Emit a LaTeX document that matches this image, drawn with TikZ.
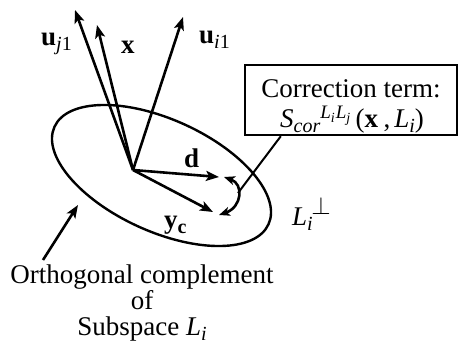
\documentclass[tikz,border=0pt]{standalone}
\usepackage{fontspec}
\setmainfont{Liberation Serif}
\usetikzlibrary{arrows.meta,calc}
\newcommand{\lsub}[1]{\raisebox{-0.22em}{\fontsize{20}{20}\selectfont #1}}
\newcommand{\lsup}[1]{\raisebox{0.30em}{\fontsize{19}{19}\selectfont #1}}
\newcommand{\lssub}[1]{\raisebox{-0.2em}{\fontsize{14}{14}\selectfont #1}}
\begin{document}
\begin{tikzpicture}[x=1pt,y=1pt,
  vec/.style={line width=2.6pt,-{Stealth[length=13pt,width=10pt,inset=3pt]}},
  dvec/.style={line width=2.6pt,{Stealth[length=11pt,width=9pt,inset=3pt]}-{Stealth[length=11pt,width=9pt,inset=3pt]}},
  lbl/.style={inner sep=0pt,font=\fontsize{27}{26}\selectfont},
  boxstyle/.style={draw,line width=2.4pt,minimum width=212pt,minimum height=70pt,inner sep=0pt}]
\useasboundingbox (0,0) rectangle (459,-354);
% subspace ellipse
\draw[line width=2.4pt,rotate around={-24.5:(161.5,-175.5)}] (161.5,-175.5) ellipse [x radius=117.6, y radius=56];
% origin and vector tips
\coordinate (O) at (133,-170);
\coordinate (uj) at (75,-10);
\coordinate (xv) at (97,-25);
\coordinate (ui) at (183,-17);
\coordinate (dv) at (219,-177);
\coordinate (yc) at (213,-212);
\draw[vec] (O) -- (uj);
\draw[vec] (O) -- (xv);
\draw[vec] (O) -- (ui);
\draw[vec] (O) -- (dv);
\draw[vec] (O) -- (yc);
% labels
\node[lbl,anchor=base west] (luj) at (41,-45) {\textbf{u}\lsub{\textit{j}1}};
\node[lbl,anchor=base west] (lx) at (121,-53) {\textbf{x}};
\node[lbl,anchor=base west] (lui) at (199,-43) {\textbf{u}\lsub{\textit{i}1}};
\node[lbl,anchor=base west] (ld) at (184,-167) {\textbf{d}};
\node[lbl,anchor=base west] (lyc) at (164,-228) {\textbf{y}\lsub{\textbf{c}}};
\node[lbl,anchor=base west] (lperp) at (292,-225) {\textit{L}\lsub{\textit{i}}\hspace{-0.05em}\raisebox{0.4em}{\fontsize{25}{25}\selectfont$\perp$}};
% correction box
\node[boxstyle] (box) at (351,-100) {};
\node[lbl,anchor=base] (t1) at (351,-97) {Correction term:};
\node[lbl,anchor=base] (t2) at (352,-127) {\textit{S}\lsub{\textit{cor}}\lsup{\textit{L}\lssub{\textit{i}}\hspace{0.05em}\textit{L}\lssub{\textit{j}}}\hspace{0.2em}(\textbf{x}\hspace{0.2em},\hspace{0.15em}\textit{L}\lsub{\textit{i}})};
% curved double arrow
\coordinate (ca) at (224,-177);
\coordinate (cb) at (219,-215);
\draw[dvec] (ca) .. controls (244,-184) and (242,-207) .. (cb);
% callout line
\coordinate (cl1) at ([xshift=37pt]box.south west);
\coordinate (cl2) at (238,-193);
\draw[line width=2pt] (cl1) -- (cl2);
% bottom text and arrow
\node[lbl,anchor=base] (b1) at (142,-283) {Orthogonal complement};
\node[lbl,anchor=base] (b2) at (142,-309) {of};
\node[lbl,anchor=base] (b3) at (142,-335) {Subspace \textit{L}\lsub{\textit{i}}};
\coordinate (ba) at (43,-260);
\coordinate (bt) at (78,-205);
\draw[vec] (ba) -- (bt);
\end{tikzpicture}
\end{document}
